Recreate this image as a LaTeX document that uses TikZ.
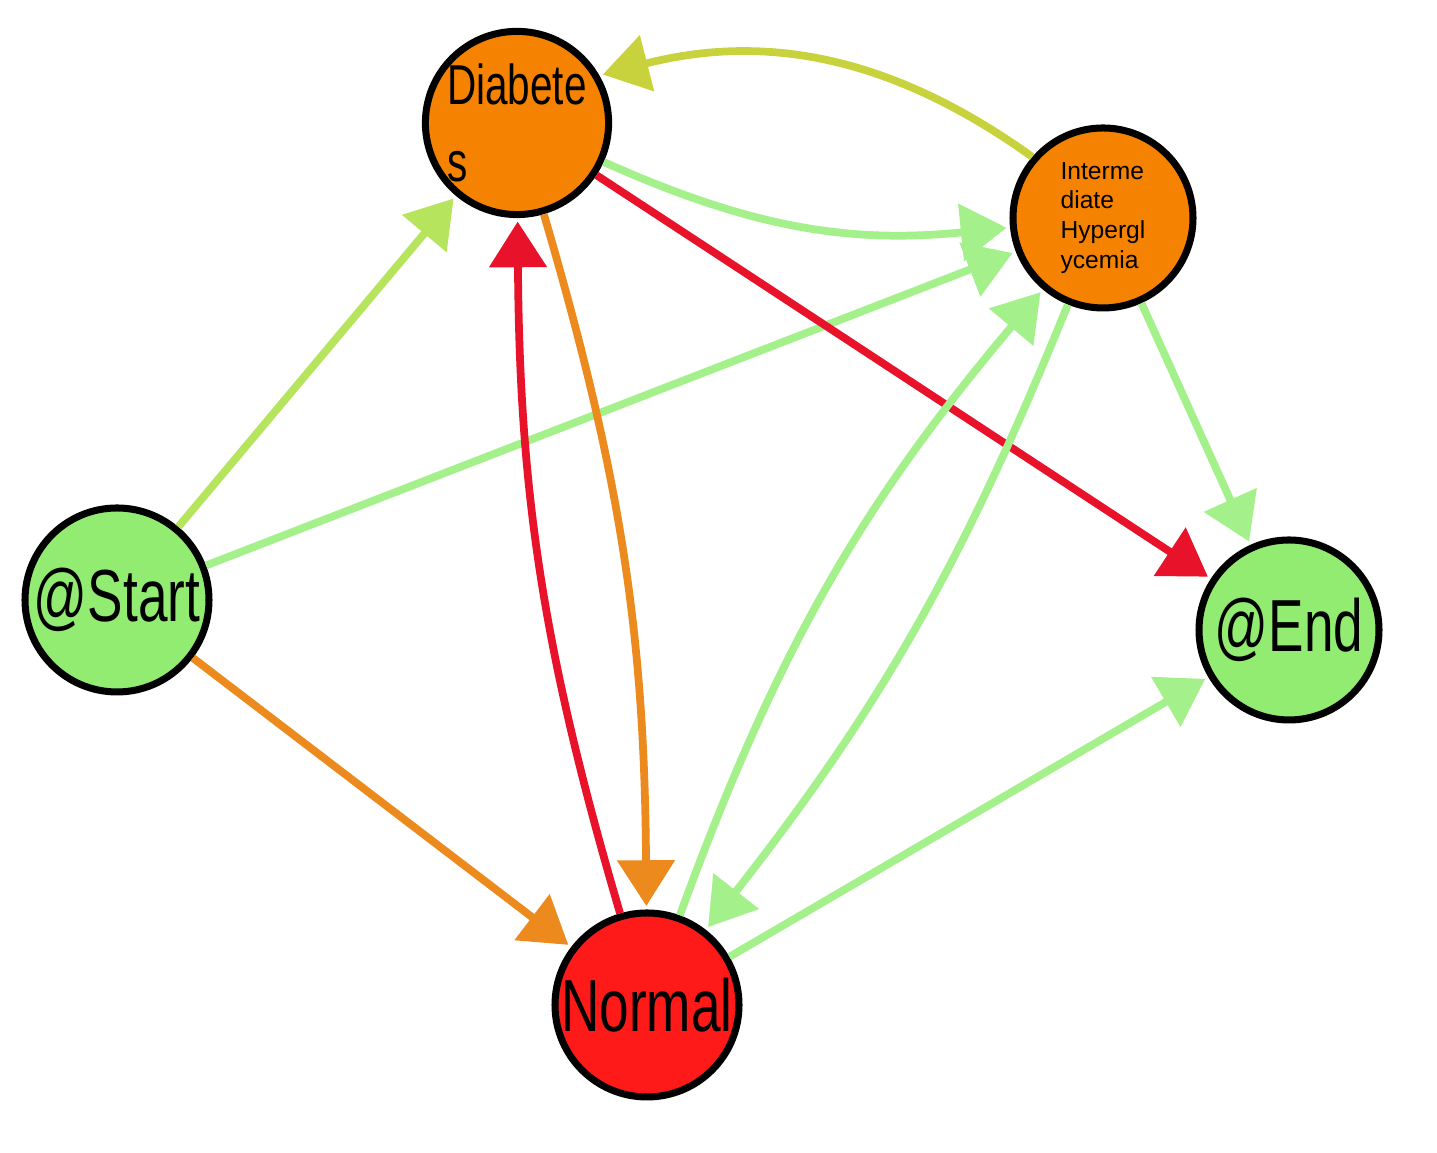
\documentclass[tikz,border=0pt]{standalone}
\usepackage{fontspec}
\setmainfont{Liberation Sans}
\usetikzlibrary{arrows.meta}
\definecolor{nodegreen}{HTML}{92EC72}
\definecolor{nodeorange}{HTML}{F58200}
\definecolor{nodered}{HTML}{FF1A1A}
\definecolor{edgegreen}{HTML}{A4F08A}
\definecolor{edgelime}{HTML}{B6E45C}
\definecolor{edgeolive}{HTML}{C8D23C}
\definecolor{edgeorange}{HTML}{EC8A1E}
\definecolor{edgered}{HTML}{E8122A}
\tikzset{
  state/.style={circle,draw=black,line width=2pt,minimum size=1.8cm,inner sep=0pt,align=left},
  trans/.style={line width=2.2pt,-{Triangle[width=16pt,length=13pt]},shorten >=1pt}
}
\newcommand{\narrow}[2]{\scalebox{0.72}[1]{\fontsize{#1}{#1}\selectfont #2}}
\begin{document}
\begin{tikzpicture}
\useasboundingbox[fill=white] (0,0) rectangle (14.37,11.53);
% States
\node[state,fill=nodeorange] (diab) at (5.17,10.30) {\narrow{16pt}{Diabete}\\[10pt]\narrow{16pt}{s}};
\node[state,fill=nodeorange,font=\fontsize{7pt}{8.5pt}\selectfont] (hyper) at (11.03,9.35) {Interme\\diate\\Hypergl\\ycemia};
\node[state,fill=nodegreen,minimum size=1.84cm] (start) at (1.17,5.53) {\narrow{21pt}{@Start}};
\node[state,fill=nodegreen] (end) at (12.89,5.23) {\narrow{21pt}{@End}};
\node[state,fill=nodered,minimum size=1.84cm] (norm) at (6.47,1.48) {\narrow{21pt}{Normal}};
% Transitions
\draw[trans,edgelime] (start) -- (diab);
\draw[trans,edgegreen] (start) -- (hyper);
\draw[trans,edgeorange] (start) -- (norm);
\draw[trans,edgeolive] (hyper) to[bend right=25] (diab.30);
\draw[trans,edgegreen] (diab) to[bend right=15] (hyper);
\draw[trans,edgered] (diab) -- (end);
\draw[trans,edgered] (norm) to[bend left=8] (diab);
\draw[trans,edgeorange] (diab) to[bend left=8] (norm);
\draw[trans,edgegreen] (norm) to[bend left=10] (hyper);
\draw[trans,edgegreen] (hyper) to[bend left=8] (norm);
\draw[trans,edgegreen] (hyper) -- (end);
\draw[trans,edgegreen] (norm) -- (end);
\end{tikzpicture}
\end{document}
